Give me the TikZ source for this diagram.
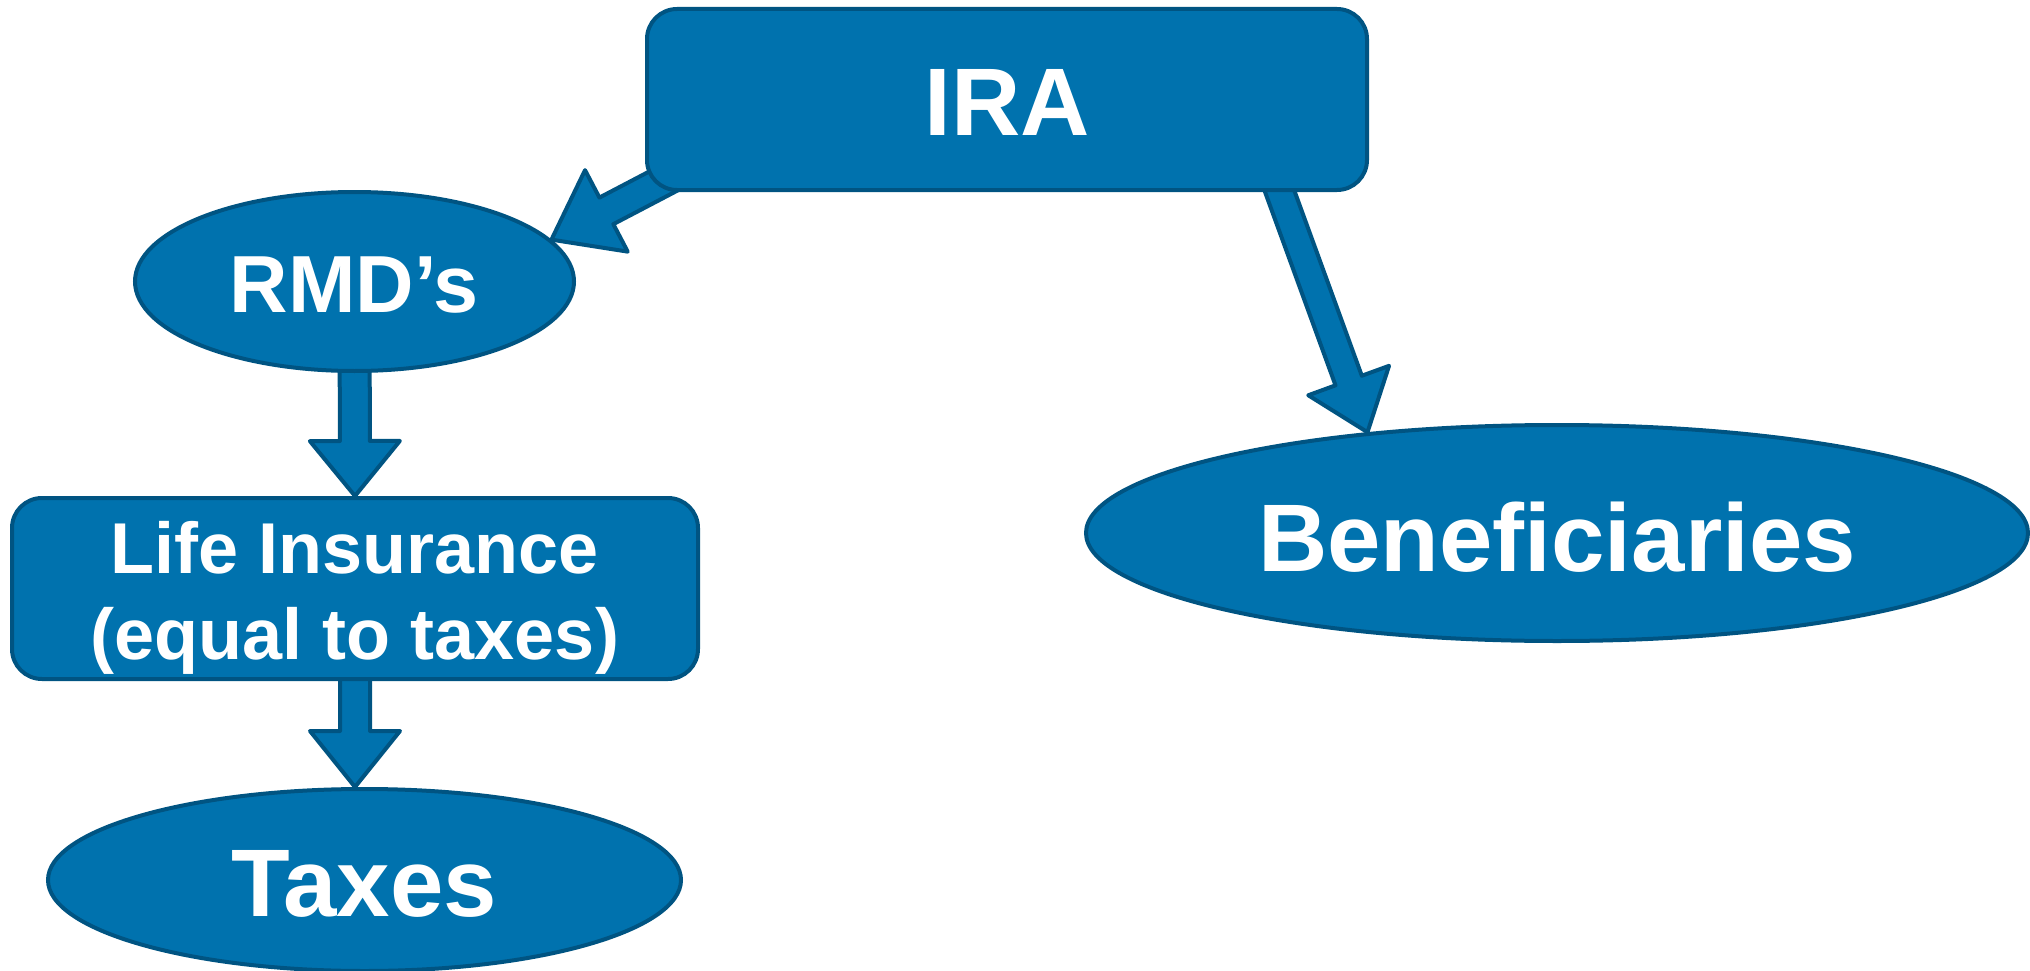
\documentclass[tikz,border=0pt]{standalone}
\usepackage{fontspec}
\setmainfont{Liberation Sans}
\usetikzlibrary{shapes.geometric,calc}
\definecolor{boxfill}{RGB}{0,114,174}
\definecolor{boxline}{RGB}{0,84,130}
\pgfdeclarelayer{bg}
\pgfsetlayers{bg,main}
\tikzset{
  base/.style={draw=boxline, fill=boxfill, line width=4pt, text=white, inner sep=0pt, font=\bfseries},
  rbox/.style={base, rectangle, rounded corners=30pt},
  oval/.style={base, ellipse},
  blockarrow/.style={draw=boxline, fill=boxfill, line width=4pt, line join=round},
}
\newcommand\blockarr[5]{%
  \path ($(#2)!#5!(#1)$) coordinate (ba-m);
  \draw[blockarrow] ($(#1)!#3!90:(#2)$) -- ($(ba-m)!#3!90:(#2)$) -- ($(ba-m)!#4!90:(#2)$)
    -- (#2) -- ($(ba-m)!#4!-90:(#2)$) -- ($(ba-m)!#3!-90:(#2)$) -- ($(#1)!#3!-90:(#2)$) -- cycle;
}
\begin{document}
\begin{tikzpicture}[x=1pt,y=-1pt]
\useasboundingbox (0,0) rectangle (2030,971);
% nodes
\node[rbox, minimum width=720pt, minimum height=181pt,
      font=\bfseries\fontsize{96}{110}\selectfont, text height=72.5pt, text depth=0pt]
  (ira) at (1007,99.5) {IRA};
\node[oval, minimum width=439pt, minimum height=179pt,
      font=\bfseries\fontsize{81}{95}\selectfont, text height=61pt, text depth=0pt]
  (rmd) at (354.5,281.5) {RMD’s};
\node[rbox, minimum width=686pt, minimum height=181pt, align=center,
      font=\bfseries\fontsize{72}{86}\selectfont, text height=141pt, text depth=0pt]
  (life) at (355,588.5) {Life Insurance\\(equal to taxes)};
\node[oval, minimum width=633pt, minimum height=182pt,
      font=\bfseries\fontsize{96}{110}\selectfont, text height=72pt, text depth=0pt]
  (taxes) at (364.5,880) {Taxes};
\node[oval, minimum width=942pt, minimum height=216pt,
      font=\bfseries\fontsize{96}{110}\selectfont, text height=76.7pt, text depth=0pt]
  (ben) at (1557,533) {Beneficiaries};
% connector end points
\coordinate (s1) at ([shift={(49,-27)}]ira.south west);
\coordinate (t1) at (rmd.12);
\coordinate (s2) at ([shift={(-100,-30)}]ira.south east);
\coordinate (t2) at (ben.152);
\coordinate (s3) at (rmd.center);
\coordinate (t3) at (life.north);
\coordinate (s4) at (life.center);
\coordinate (t4) at (life.south |- taxes.north);
\begin{pgfonlayer}{bg}
  \blockarr{s1}{t1}{15pt}{46pt}{62pt}
  \blockarr{s2}{t2}{14pt}{43pt}{55pt}
  \blockarr{s3}{t3}{15pt}{45pt}{55pt}
  \blockarr{s4}{t4}{15pt}{45pt}{56pt}
\end{pgfonlayer}
\end{tikzpicture}
\end{document}
